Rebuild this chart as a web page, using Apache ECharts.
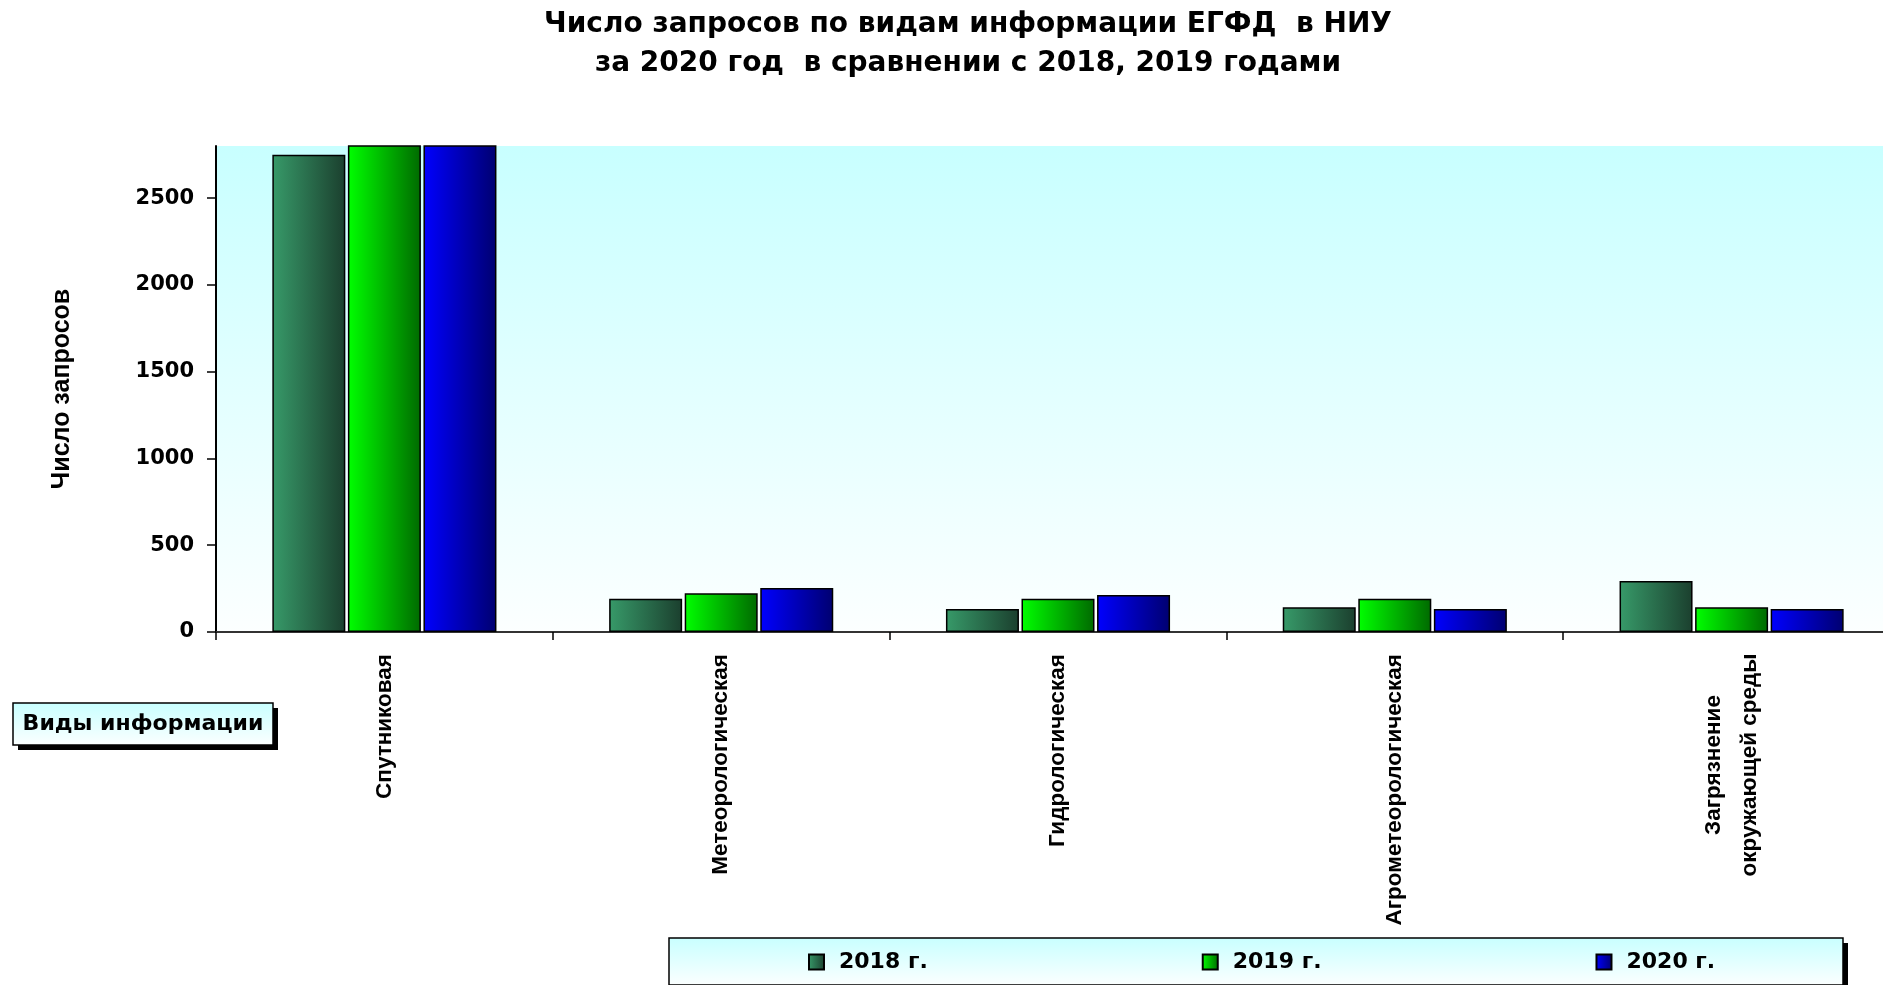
<!DOCTYPE html>
<html>
<head>
<meta charset="utf-8">
<script src="https://cdn.jsdelivr.net/npm/echarts@6/dist/echarts.min.js"></script>
<style>
html,body{margin:0;padding:0;background:#fff;}
#main{width:1883px;height:985px;}
</style>
</head>
<body>
<div id="main"></div>
<script>
// ---- data ----
const categories = ['Спутниковая', 'Метеорологическая', 'Гидрологическая', 'Агрометеорологическая', 'Загрязнение\nокружающей среды'];
const seriesNames = ['2018 г.', '2019 г.', '2020 г.'];
const values2018 = [2750, 192, 133, 142, 294];
const values2019 = [2900, 223, 192, 192, 142];
const values2020 = [2960, 254, 213, 133, 133];
const yTicks = [0, 500, 1000, 1500, 2000, 2500];
const titleLines = ['Число запросов по видам информации ЕГФД  в НИУ', 'за 2020 год  в сравнении с 2018, 2019 годами'];
const yAxisName = 'Число запросов';
const xAxisName = 'Виды информации';

const LG = echarts.graphic.LinearGradient;
const barColors = [
  ['#379a69', '#1b3f2e'],
  ['#00ff00', '#006a00'],
  ['#0000ff', '#000070']
];
const cyanGrad = () => new LG(0, 0, 0, 1, [{offset: 0, color: '#c8ffff'}, {offset: 1, color: '#fcffff'}]);

const chart = echarts.init(document.getElementById('main'));

function mkSeries(name, data, idx) {
  return {
    name: name,
    type: 'bar',
    data: data,
    barWidth: 73,
    barGap: '3.5%',
    clip: true,
    z: 3,
    itemStyle: {
      color: new LG(0, 0, 1, 0, [{offset: 0, color: barColors[idx][0]}, {offset: 1, color: barColors[idx][1]}]),
      borderColor: '#000',
      borderWidth: 1.5
    }
  };
}

// legend frame geometry
const LEG = {x: 669, y: 938, w: 1174, h: 47};
const BOX = {x: 13, y: 703, w: 260, h: 42};

chart.setOption({
  backgroundColor: '#fff',
  animation: false,
  title: {
    text: titleLines.join('\n'),
    left: 963,
    top: 0,
    textAlign: 'center',
    textStyle: {
      fontFamily: 'DejaVu Sans',
      fontWeight: 'bold',
      fontSize: 28,
      lineHeight: 39,
      color: '#000'
    }
  },
  grid: {
    left: 216,
    top: 146,
    right: -17,
    bottom: 353,
    outerBoundsMode: 'none',
    containLabel: false,
    show: true,
    borderWidth: 0,
    backgroundColor: cyanGrad()
  },
  legend: {
    data: seriesNames,
    left: LEG.x,
    top: LEG.y,
    orient: 'horizontal',
    padding: [11, 130, 10, 139],
    itemGap: 274,
    itemWidth: 15,
    itemHeight: 15,
    icon: 'rect',
    z: 10,
    textStyle: {
      fontFamily: 'DejaVu Sans',
      fontWeight: 'bold',
      fontSize: 22,
      lineHeight: 26,
      color: '#000',
      padding: [0, 0, 0, 10]
    }
  },
  xAxis: {
    type: 'category',
    data: categories,
    axisLine: {lineStyle: {color: '#333', width: 2}},
    axisTick: {show: true, length: 8, lineStyle: {color: '#000', width: 1.5}},
    axisLabel: {
      interval: 0,
      rotate: 90,
      margin: 22,
      fontFamily: 'Liberation Sans',
      fontWeight: 'bold',
      fontSize: 22.5,
      color: '#000',
      formatter: function (v) {
        if (v.indexOf('\n') >= 0) {
          return v.split('\n').map(s => '{c|' + s + '}').join('\n');
        }
        return v;
      },
      rich: {
        c: {
          width: 222,
          align: 'center',
          lineHeight: 36,
          fontFamily: 'Liberation Sans',
          fontWeight: 'bold',
          fontSize: 22.5,
          color: '#000'
        }
      }
    },
    splitLine: {show: false}
  },
  yAxis: {
    type: 'value',
    min: 0,
    max: 2800,
    interval: 500,
    name: yAxisName,
    nameLocation: 'middle',
    nameGap: 141,
    nameTextStyle: {
      fontFamily: 'Liberation Sans',
      fontWeight: 'bold',
      fontSize: 25,
      color: '#000'
    },
    axisLine: {show: true, lineStyle: {color: '#000', width: 2}},
    axisTick: {show: true, length: 9, lineStyle: {color: '#000', width: 1.5}, customValues: yTicks},
    axisLabel: {
      customValues: yTicks,
      margin: 22,
      fontFamily: 'DejaVu Sans',
      fontWeight: 'bold',
      fontSize: 21,
      color: '#000',
      formatter: v => String(v)
    },
    splitLine: {show: false}
  },
  graphic: [
    // legend frame: shadow + gradient panel
    {type: 'rect', z: 1, shape: {x: LEG.x + 5, y: LEG.y + 5, width: LEG.w, height: LEG.h}, style: {fill: '#000'}},
    {type: 'rect', z: 2, shape: {x: LEG.x, y: LEG.y, width: LEG.w, height: LEG.h}, style: {fill: cyanGrad(), stroke: '#000', lineWidth: 1.5}},
    // x-axis title box
    {type: 'rect', z: 1, shape: {x: BOX.x + 5, y: BOX.y + 5, width: BOX.w, height: BOX.h}, style: {fill: '#000'}},
    {type: 'rect', z: 2, shape: {x: BOX.x, y: BOX.y, width: BOX.w, height: BOX.h}, style: {fill: cyanGrad(), stroke: '#000', lineWidth: 1.5}},
    {
      type: 'text', z: 3,
      x: BOX.x + BOX.w / 2,
      y: BOX.y + BOX.h / 2,
      style: {
        text: xAxisName,
        font: 'bold 22px "DejaVu Sans"',
        fill: '#000',
        align: 'center',
        verticalAlign: 'middle'
      }
    }
  ],
  series: [
    mkSeries(seriesNames[0], values2018, 0),
    mkSeries(seriesNames[1], values2019, 1),
    mkSeries(seriesNames[2], values2020, 2)
  ]
});
</script>
</body>
</html>
